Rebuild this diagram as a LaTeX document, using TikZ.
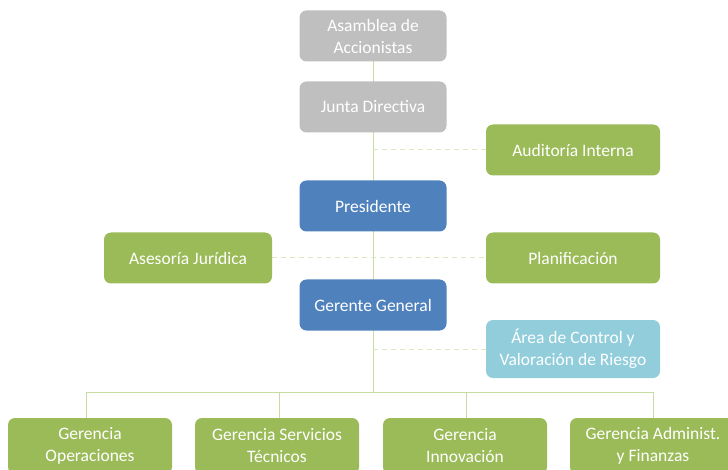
\documentclass[tikz,border=0pt]{standalone}
\usepackage{fontspec}
\setmainfont{Carlito}
\usetikzlibrary{positioning}

\definecolor{boardgray}{HTML}{BFBFBF}
\definecolor{headblue}{HTML}{4F81BD}
\definecolor{unitgreen}{HTML}{9BBB59}
\definecolor{riskblue}{HTML}{92CDDC}
\definecolor{linkgreen}{HTML}{C8DBA0}
\definecolor{staffgreen}{HTML}{DDE8C0}

\tikzset{
  unit/.style={rounded corners=7pt, text=white, align=center, inner sep=2pt,
    minimum height=51pt, font=\fontsize{17.5}{22}\selectfont},
  board/.style={unit, fill=boardgray, minimum width=147pt},
  head/.style={unit, fill=headblue, minimum width=147pt},
  staff/.style={unit, fill=unitgreen, minimum width=174pt},
  risk/.style={unit, fill=riskblue, minimum width=174pt, minimum height=58pt},
  dept/.style={unit, fill=unitgreen, minimum width=164pt, minimum height=56pt},
  link/.style={linkgreen, line width=1pt},
  stafflink/.style={staffgreen, line width=1pt, dash pattern=on 5pt off 4pt}
}

\begin{document}
\begin{tikzpicture}[x=1pt, y=-1pt]
\useasboundingbox (0,0) rectangle (728,470);

%the lines
\coordinate (bus) at (373,392);
\coordinate (busl) at (86,392);
\coordinate (busr) at (653,392);
\coordinate (tapa) at (373,150);
\coordinate (tapc) at (373,349);

\draw [link] (373,36) -- (bus);
\draw [link] (busl) -- (busr);
\foreach \x/\n in {86/gop, 279/gst, 466/ginn, 653/gadm}
  \draw [link] (\x,392) -- (\x,430);

\draw [stafflink] (tapa) -- (486,150);
\draw [stafflink] (272,258) -- (486,258);
\draw [stafflink] (tapc) -- (486,349);

%the boxes
\node [board] (asam) at (373,36) {Asamblea de\\Accionistas};
\node [board] (junta) at (373,107) {Junta Directiva};
\node [staff] (audit) at (573,150) {Auditoría Interna};
\node [head] (pres) at (373,206) {Presidente};
\node [staff, minimum width=168pt] (asesor) at (188,258) {Asesoría Jurídica};
\node [staff] (plan) at (573,258) {Planificación};
\node [head] (gerente) at (373,305) {Gerente General};
\node [risk] (area) at (573,349) {Área de Control y\\Valoración de Riesgo};

%the departments
\node [dept] (gop) at (90,446) {Gerencia\\Operaciones};
\node [dept] (gst) at (277,446) {Gerencia Servicios\\Técnicos};
\node [dept] (ginn) at (465,446) {Gerencia\\Innovación};
\node [dept, minimum width=166pt] (gadm) at (653,446) {Gerencia Administ.\\y Finanzas};
\end{tikzpicture}
\end{document}
